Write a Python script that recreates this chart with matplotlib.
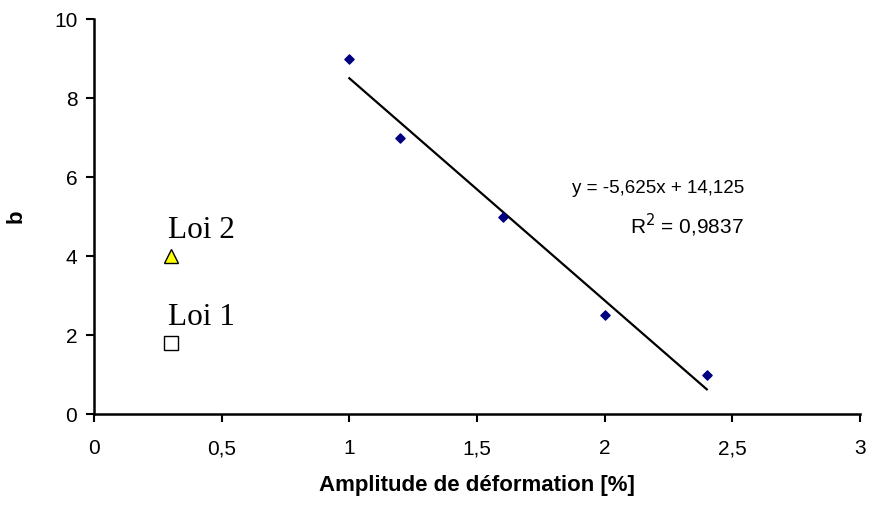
import matplotlib.pyplot as plt
import numpy as np

plt.rcParams['font.family'] = ['Liberation Sans', 'DejaVu Sans']

# measured points
amplitude = np.array([1.0, 1.2, 1.6, 2.0, 2.4])
b_values = np.array([9.0, 7.0, 5.0, 2.5, 1.0])

# laws
loi_x = [0.3, 0.3]
loi_y = [1.8, 4.0]
loi_names = ["Loi 1", "Loi 2"]

slope, intercept = np.polyfit(amplitude, b_values, 1)
fit_x = np.array([amplitude.min(), amplitude.max()])
fit_y = slope * fit_x + intercept

fig = plt.figure(figsize=(8.72, 5.07), dpi=100)
ax = fig.add_axes([0.1078, 0.1834, 0.8784, 0.7791])

ax.plot(fit_x, fit_y, color="black", lw=1.6, zorder=2)
ax.scatter(amplitude, b_values, marker="D", s=22, color="#000080", zorder=3)
ax.plot(loi_x[0], loi_y[0], marker="s", ms=10, mfc="white", mec="black", mew=1, ls="none", zorder=3)
ax.plot(loi_x[1], loi_y[1], marker="^", ms=10, mfc="#ffff00", mec="black", mew=1, ls="none", zorder=3)

for x, y, name in zip(loi_x, loi_y, loi_names):
    ax.text(x - 0.01, y + 0.27, name, family="Liberation Serif", fontsize=22.5, ha="left", va="bottom")

ax.text(2.548, 5.72, "y = -5,625x + 14,125", fontsize=13.5, ha="right", va="center")
ax.text(2.545, 4.78, "R$^2$ = 0,9837", fontsize=15, ha="right", va="center")

ax.set_xlim(0, 3)
ax.set_ylim(0, 10)
ax.set_xticks(np.arange(0, 3.01, 0.5))
ax.set_xticklabels(["0", "0,5", "1", "1,5", "2", "2,5", "3"])
ax.set_yticks(np.arange(0, 10.1, 2))

for side in ["top", "right"]:
    ax.spines[side].set_visible(False)
for side in ["left", "bottom"]:
    ax.spines[side].set_linewidth(1.8)
ax.tick_params(direction="out", width=1.5, length=6, labelsize=15)
ax.tick_params(axis="x", pad=12)
ax.tick_params(axis="y", pad=6)

ax.set_xlabel("Amplitude de déformation [%]", fontsize=16, fontweight="bold", labelpad=12)
ax.set_ylabel("b", fontsize=16, fontweight="bold", labelpad=20)

fig.savefig("out.png", dpi=100)
